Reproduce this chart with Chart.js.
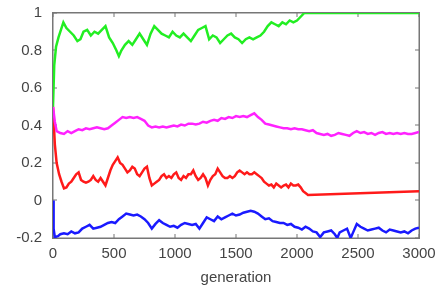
<!DOCTYPE html>
<html lang="en">
<head>
    <meta charset="UTF-8">
    <title>generation</title>
    <script src="https://cdn.jsdelivr.net/npm/chart.js"></script>
    <style>
        body { margin: 0; padding: 0; background: #fff; }
        #wrap { width: 445px; height: 286px; }
    </style>
</head>
<body>
    <div id="wrap"><canvas id="chart" width="445" height="286"></canvas></div>
    <script>
        // tick labels
        const xTicks = [0, 500, 1000, 1500, 2000, 2500, 3000];
        const yTicks = [-0.2, 0, 0.2, 0.4, 0.6, 0.8, 1];

        // green series
        const greenGen = [0,10,25,45,65,85,110,140,170,200,225,250,280,310,340,370,400,430,460,490,520,540,560,590,620,650,680,710,740,770,800,830,860,890,920,950,980,1010,1040,1070,1100,1130,1160,1190,1220,1250,1280,1310,1340,1370,1400,1430,1460,1490,1520,1550,1580,1610,1640,1670,1700,1730,1760,1790,1820,1850,1880,1910,1940,1970,2000,2030,2060,3000];
        const greenVal = [0.5,0.72,0.82,0.87,0.91,0.95,0.92,0.9,0.88,0.85,0.86,0.9,0.91,0.88,0.9,0.89,0.91,0.93,0.87,0.84,0.8,0.77,0.8,0.83,0.85,0.83,0.86,0.89,0.86,0.83,0.89,0.93,0.91,0.89,0.88,0.87,0.9,0.88,0.87,0.89,0.87,0.85,0.88,0.91,0.92,0.93,0.86,0.88,0.87,0.84,0.86,0.88,0.89,0.87,0.86,0.84,0.86,0.87,0.86,0.87,0.88,0.9,0.93,0.95,0.94,0.93,0.95,0.94,0.96,0.95,0.96,0.98,1.0,1.0];

        // magenta series
        const magentaGen = [0,15,30,60,90,120,150,180,210,240,270,300,330,360,390,420,450,480,510,540,570,600,630,660,690,720,750,780,810,840,870,900,930,960,990,1020,1050,1080,1110,1140,1170,1200,1230,1260,1290,1320,1350,1380,1410,1440,1470,1500,1530,1560,1590,1620,1650,1680,1710,1740,1770,1800,1830,1860,1890,1920,1950,1980,2010,2040,2070,2100,2130,2160,2190,2220,2250,2280,2310,2340,2370,2400,2430,2460,2490,2520,2550,2580,2610,2640,2670,2700,2730,2760,2790,2820,2850,2880,2910,2940,2970,3000];
        const magentaVal = [0.5,0.42,0.37,0.36,0.355,0.37,0.36,0.37,0.38,0.375,0.385,0.38,0.385,0.39,0.385,0.38,0.385,0.4,0.415,0.43,0.445,0.44,0.445,0.44,0.445,0.435,0.425,0.4,0.39,0.395,0.39,0.395,0.39,0.395,0.4,0.395,0.405,0.4,0.41,0.41,0.405,0.41,0.42,0.415,0.425,0.43,0.425,0.44,0.435,0.445,0.44,0.45,0.445,0.45,0.445,0.455,0.465,0.445,0.43,0.41,0.405,0.4,0.395,0.39,0.385,0.385,0.38,0.385,0.38,0.38,0.375,0.37,0.375,0.36,0.355,0.35,0.355,0.345,0.35,0.36,0.355,0.35,0.345,0.36,0.37,0.36,0.365,0.355,0.36,0.35,0.36,0.365,0.355,0.36,0.355,0.36,0.355,0.36,0.355,0.355,0.36,0.365];

        // red series
        const redGen = [0,15,30,50,70,90,110,130,150,170,190,210,230,250,270,290,310,330,350,370,390,410,430,450,470,490,510,530,550,570,590,610,630,650,670,690,710,730,750,770,790,810,830,850,870,890,910,930,950,970,990,1010,1030,1050,1070,1090,1110,1130,1150,1170,1190,1210,1230,1250,1270,1290,1310,1330,1350,1370,1390,1410,1430,1450,1470,1490,1510,1530,1550,1570,1590,1610,1630,1650,1670,1690,1710,1730,1750,1770,1790,1810,1830,1850,1870,1890,1910,1930,1950,1970,1990,2010,2030,2050,2070,2090,3000];
        const redVal = [0.5,0.3,0.2,0.14,0.1,0.065,0.07,0.09,0.1,0.12,0.14,0.15,0.11,0.1,0.095,0.1,0.11,0.13,0.11,0.1,0.12,0.1,0.08,0.12,0.16,0.19,0.21,0.23,0.2,0.19,0.17,0.15,0.16,0.18,0.17,0.14,0.13,0.15,0.17,0.18,0.12,0.08,0.09,0.1,0.11,0.13,0.14,0.12,0.13,0.12,0.14,0.15,0.12,0.11,0.13,0.12,0.14,0.14,0.16,0.13,0.11,0.12,0.14,0.12,0.08,0.11,0.13,0.14,0.17,0.15,0.13,0.12,0.12,0.13,0.12,0.13,0.15,0.16,0.15,0.14,0.15,0.14,0.14,0.15,0.14,0.13,0.12,0.1,0.09,0.08,0.085,0.07,0.09,0.08,0.07,0.08,0.085,0.07,0.09,0.08,0.08,0.085,0.07,0.05,0.04,0.03,0.05];

        // blue series
        const blueGen = [0,5,15,40,60,90,120,150,180,210,240,270,300,330,360,390,420,450,480,510,540,570,600,630,660,690,720,750,780,810,840,870,900,930,960,990,1020,1050,1080,1110,1140,1170,1200,1230,1260,1290,1320,1350,1380,1410,1440,1470,1500,1530,1560,1590,1620,1650,1680,1710,1740,1770,1800,1830,1860,1890,1920,1950,1980,2010,2040,2070,2100,2130,2160,2190,2220,2250,2280,2310,2330,2350,2380,2410,2440,2460,2490,2520,2550,2580,2610,2640,2670,2700,2730,2760,2790,2820,2850,2880,2910,2940,2970,3000];
        const blueVal = [0,-0.15,-0.195,-0.19,-0.18,-0.175,-0.18,-0.165,-0.175,-0.17,-0.15,-0.14,-0.13,-0.15,-0.145,-0.14,-0.13,-0.12,-0.115,-0.12,-0.1,-0.085,-0.07,-0.075,-0.08,-0.075,-0.085,-0.1,-0.12,-0.15,-0.125,-0.105,-0.12,-0.13,-0.14,-0.135,-0.145,-0.13,-0.12,-0.125,-0.13,-0.125,-0.15,-0.12,-0.09,-0.1,-0.11,-0.085,-0.1,-0.09,-0.08,-0.07,-0.08,-0.075,-0.065,-0.06,-0.055,-0.06,-0.07,-0.085,-0.1,-0.095,-0.11,-0.115,-0.12,-0.12,-0.13,-0.125,-0.14,-0.145,-0.155,-0.14,-0.15,-0.165,-0.17,-0.195,-0.17,-0.165,-0.16,-0.18,-0.2,-0.17,-0.16,-0.15,-0.2,-0.17,-0.125,-0.14,-0.15,-0.16,-0.155,-0.15,-0.145,-0.16,-0.17,-0.155,-0.16,-0.165,-0.17,-0.165,-0.175,-0.16,-0.15,-0.145];

        function pts(gens, vals) {
            return gens.map((g, i) => ({ x: g, y: vals[i] }));
        }

        function series(gens, vals, color) {
            return {
                data: pts(gens, vals),
                borderColor: color,
                backgroundColor: color,
                borderWidth: 2.5,
                pointRadius: 0,
                tension: 0
            };
        }

        const frameColor = '#777777';
        const textColor = '#444';
        const font = { family: 'Arial, "Liberation Sans", sans-serif', size: 15 };

        // box round the plot area with short inward tick marks, under the lines
        Chart.register({
            id: 'plotFrame',
            beforeDatasetsDraw(chart) {
                const ctx = chart.ctx;
                const a = chart.chartArea;
                const sx = chart.scales.x;
                const sy = chart.scales.y;
                const L = Math.round(a.left), R = Math.round(a.right);
                const T = Math.round(a.top), B = Math.round(a.bottom);
                ctx.save();
                ctx.fillStyle = frameColor;
                ctx.fillRect(L - 1, T - 1, R - L + 2, 1.5);
                ctx.fillRect(L - 1, B - 0.5, R - L + 2, 1.5);
                ctx.fillRect(L - 1, T - 1, 1.5, B - T + 2);
                ctx.fillRect(R - 0.5, T - 1, 1.5, B - T + 2);
                xTicks.forEach(v => {
                    const px = Math.round(sx.getPixelForValue(v));
                    ctx.fillRect(px - 0.5, B - 4, 1, 4);
                    ctx.fillRect(px - 0.5, T, 1, 4);
                });
                yTicks.forEach(v => {
                    const py = Math.round(sy.getPixelForValue(v));
                    ctx.fillRect(L, py - 0.5, 4, 1);
                    ctx.fillRect(R - 4, py - 0.5, 4, 1);
                });
                ctx.restore();
            }
        });

        new Chart(document.getElementById('chart'), {
            type: 'line',
            data: {
                datasets: [
                    series(greenGen, greenVal, '#22ee22'),
                    series(magentaGen, magentaVal, '#ff22ff'),
                    series(redGen, redVal, '#ff1a1a'),
                    series(blueGen, blueVal, '#1a1aff')
                ]
            },
            options: {
                responsive: false,
                animation: false,
                layout: { padding: { top: 13, right: 26, left: 0, bottom: 0 } },
                plugins: { legend: { display: false }, tooltip: { enabled: false } },
                scales: {
                    x: {
                        type: 'linear',
                        min: 0,
                        max: 3000,
                        grid: { display: false, drawTicks: false },
                        border: { display: false },
                        afterBuildTicks(axis) { axis.ticks = xTicks.map(v => ({ value: v })); },
                        afterFit(axis) {
                            axis.height = 48;
                            axis.paddingLeft = 0;
                            axis.paddingRight = 0;
                        },
                        ticks: { color: textColor, font: font, padding: 7, maxRotation: 0, callback: v => String(v) },
                        title: { display: true, text: 'generation', color: textColor, font: { family: font.family, size: 15 }, padding: { top: 0, bottom: -1 } }
                    },
                    y: {
                        min: -0.2,
                        max: 1,
                        grid: { display: false, drawTicks: false },
                        border: { display: false },
                        afterBuildTicks(axis) { axis.ticks = yTicks.map(v => ({ value: v })); },
                        afterFit(axis) {
                            axis.width = 53;
                            axis.paddingTop = 0;
                            axis.paddingBottom = 0;
                        },
                        ticks: {
                            color: textColor,
                            font: font,
                            padding: 11,
                            callback: v => String(Math.round(v * 10) / 10)
                        }
                    }
                }
            }
        });
    </script>
</body>
</html>
